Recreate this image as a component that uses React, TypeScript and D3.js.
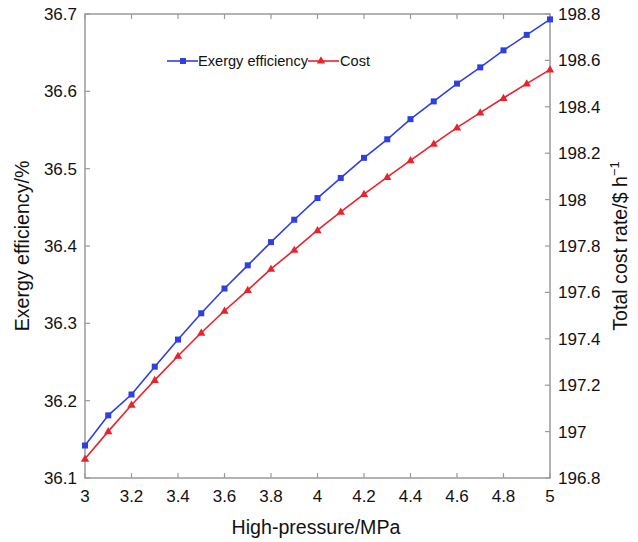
import React from "react";
import * as d3 from "d3";

const pressures = [3, 3.1, 3.2, 3.3, 3.4, 3.5, 3.6, 3.7, 3.8, 3.9, 4, 4.1, 4.2, 4.3, 4.4, 4.5, 4.6, 4.7, 4.8, 4.9, 5];
const exergyEfficiency = [36.142, 36.181, 36.208, 36.244, 36.279, 36.313, 36.345, 36.375, 36.405, 36.434, 36.462, 36.488, 36.514, 36.538, 36.564, 36.587, 36.61, 36.631, 36.653, 36.673, 36.693];
const costRate = [196.883, 197.001, 197.115, 197.222, 197.326, 197.426, 197.521, 197.61, 197.701, 197.783, 197.868, 197.947, 198.024, 198.097, 198.169, 198.24, 198.31, 198.375, 198.438, 198.5, 198.56];
const xTicks = [3, 3.2, 3.4, 3.6, 3.8, 4, 4.2, 4.4, 4.6, 4.8, 5];
const leftTicks = [36.1, 36.2, 36.3, 36.4, 36.5, 36.6, 36.7];
const rightTicks = [196.8, 197, 197.2, 197.4, 197.6, 197.8, 198, 198.2, 198.4, 198.6, 198.8];
const seriesNames = ["Exergy efficiency", "Cost"];

const W = 638, H = 542;
const L = 85, R = 550, T = 14, B = 478;
const BLUE = "#2f3fe0";
const RED = "#e8232b";
const AXIS = "#9a9a9a";
const FONT = "'Liberation Sans', Arial, Helvetica, sans-serif";

export default function App() {
  const x = d3.scaleLinear().domain([3, 5]).range([L, R]);
  const yL = d3.scaleLinear().domain([36.1, 36.7]).range([B, T]);
  const yR = d3.scaleLinear().domain([196.8, 198.8]).range([B, T]);
  const fmt = (v: number) => String(+v.toFixed(2));

  const lineL = d3.line<number>().x((_, i) => x(pressures[i])).y((d) => yL(d));
  const lineR = d3.line<number>().x((_, i) => x(pressures[i])).y((d) => yR(d));
  const tri = d3.symbol().type(d3.symbolTriangle).size(30)()!;
  const tk = 5;

  return (
    <svg width={W} height={H} style={{ position: "absolute", left: 0, top: 0, background: "#fff" }} fontFamily={FONT}>
      <rect x={0} y={0} width={W} height={H} fill="#fff" />
      {/* frame */}
      <rect x={L} y={T} width={R - L} height={B - T} fill="none" stroke={AXIS} strokeWidth={1.5} />
      {/* x ticks */}
      {xTicks.map((t) => (
        <g key={"x" + t}>
          <line x1={x(t)} x2={x(t)} y1={B} y2={B - tk} stroke={AXIS} strokeWidth={1.2} />
          <line x1={x(t)} x2={x(t)} y1={T} y2={T + tk} stroke={AXIS} strokeWidth={1.2} />
          <text x={x(t)} y={502} textAnchor="middle" fontSize={17} fill="#111">{fmt(t)}</text>
        </g>
      ))}
      {leftTicks.map((t) => (
        <g key={"l" + t}>
          <line x1={L} x2={L + tk} y1={yL(t)} y2={yL(t)} stroke={AXIS} strokeWidth={1.2} />
          <text x={77} y={yL(t) + 6} textAnchor="end" fontSize={17} fill="#111">{t.toFixed(1)}</text>
        </g>
      ))}
      {rightTicks.map((t) => (
        <g key={"r" + t}>
          <line x1={R} x2={R - tk} y1={yR(t)} y2={yR(t)} stroke={AXIS} strokeWidth={1.2} />
          <text x={558} y={yR(t) + 6} textAnchor="start" fontSize={17} fill="#111">{fmt(t)}</text>
        </g>
      ))}
      {/* series */}
      <path d={lineL(exergyEfficiency)!} fill="none" stroke={BLUE} strokeWidth={1.6} />
      <path d={lineR(costRate)!} fill="none" stroke={RED} strokeWidth={1.6} />
      {exergyEfficiency.map((v, i) => (
        <rect key={"b" + i} x={x(pressures[i]) - 3} y={yL(v) - 3} width={6} height={6} fill={BLUE} />
      ))}
      {costRate.map((v, i) => (
        <path key={"c" + i} d={tri} transform={`translate(${x(pressures[i])},${yR(v) + 0.5})`} fill={RED} />
      ))}
      {/* legend */}
      <line x1={167} x2={198} y1={61} y2={61} stroke={BLUE} strokeWidth={1.6} />
      <rect x={180} y={58} width={6} height={6} fill={BLUE} />
      <text x={198} y={66} fontSize={14.6} fill="#111">{seriesNames[0]}</text>
      <line x1={308} x2={339} y1={61} y2={61} stroke={RED} strokeWidth={1.6} />
      <path d={tri} transform="translate(321,61)" fill={RED} />
      <text x={340} y={66} fontSize={14.6} fill="#111">{seriesNames[1]}</text>
      {/* axis titles */}
      <text x={316} y={534} textAnchor="middle" fontSize={19.6} fill="#111">High-pressure/MPa</text>
      <text transform={`translate(29,246) rotate(-90)`} textAnchor="middle" fontSize={19.6} fill="#111">Exergy efficiency/%</text>
      <text transform={`translate(627,246) rotate(-90)`} textAnchor="middle" fontSize={19.6} fill="#111">
        Total cost rate/$ h
        <tspan dy={-8} fontSize={13}>−1</tspan>
      </text>
    </svg>
  );
}
